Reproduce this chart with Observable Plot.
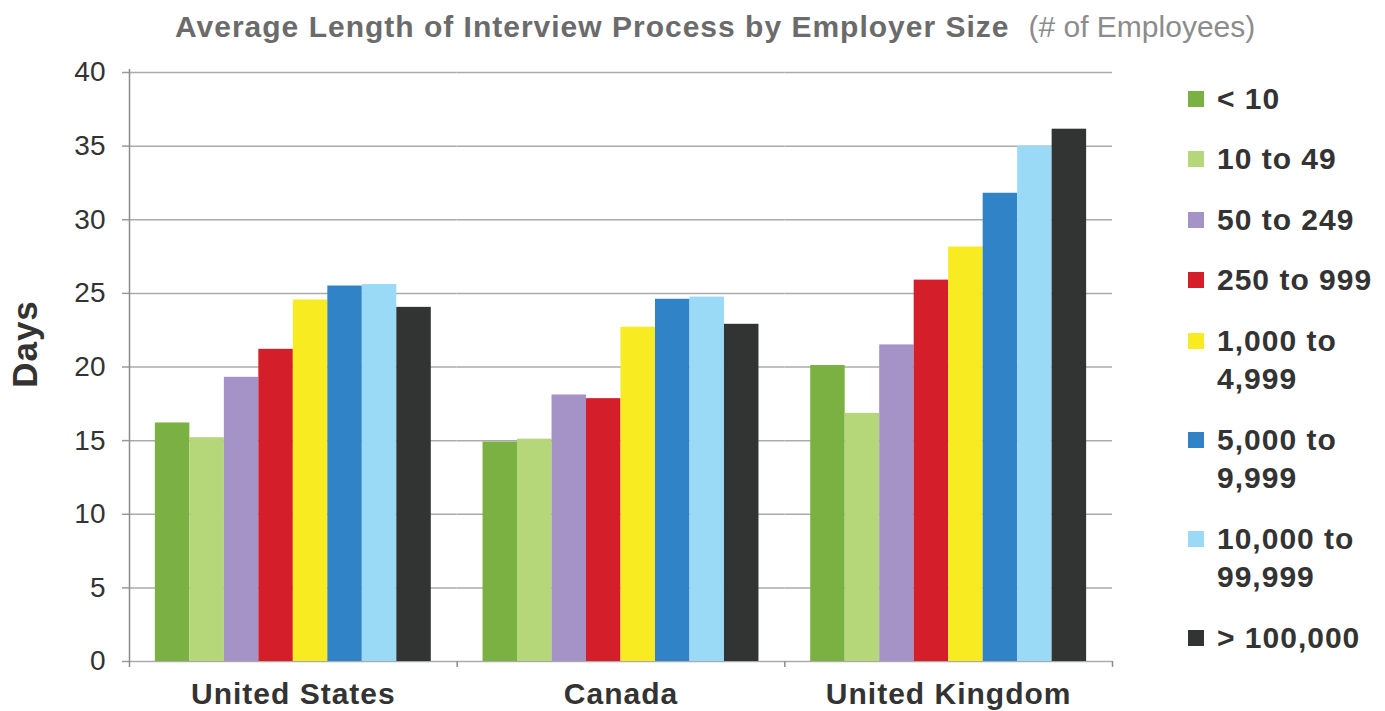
<!DOCTYPE html>
<html>
<head>
<meta charset="utf-8">
<script src="https://cdn.jsdelivr.net/npm/d3@7"></script>
<script src="https://cdn.jsdelivr.net/npm/@observablehq/plot@0.6"></script>
<style>
  body { margin: 0; background: #fff; font-family: "Liberation Sans", Arial, Helvetica, sans-serif; }
  #wrap { position: relative; width: 1385px; height: 711px; overflow: hidden; }
  #chart { position: absolute; left: 0; top: 0; }
  #title { position: absolute; left: 175px; top: 12px; white-space: nowrap; font-size: 30px; line-height: 30px; color: #6b6b6b; }
  #title b { letter-spacing: 1.0px; }
  #title span { color: #8c8c8c; font-weight: normal; margin-left: 19px; }
  #ylab { position: absolute; left: 24px; top: 344px; transform: translate(-50%, -50%) rotate(-90deg);
          font-size: 35px; line-height: 35px; font-weight: bold; letter-spacing: 1px; color: #333; white-space: nowrap; }
  #legend { position: absolute; left: 1188px; top: 79.5px; }
  .item { display: flex; align-items: flex-start; margin-bottom: 22px; }
  .sw { width: 16px; height: 16px; margin-top: 11.25px; margin-right: 13px; flex: none; }
  .lab { font-size: 30px; font-weight: bold; letter-spacing: 1px; line-height: 38.5px; color: #333; white-space: pre; }
  #chart [aria-label="fx-axis tick label"] text { font-weight: bold; letter-spacing: 1px; }
</style>
</head>
<body>
<div id="wrap">
  <div id="chart"></div>
  <div id="title"></div>
  <div id="ylab"></div>
  <div id="legend"></div>
</div>
<script>
const titleMain = "Average Length of Interview Process by Employer Size";
const titleSub = "(# of Employees)";
const yLabel = "Days";
const countries = ["United States", "Canada", "United Kingdom"];
const sizes = ["< 10", "10 to 49", "50 to 249", "250 to 999", "1,000 to 4,999", "5,000 to 9,999", "10,000 to 99,999", "> 100,000"];
const colors = ["#7bb142", "#b5d77a", "#a592c6", "#d41f2a", "#f8eb22", "#3083c6", "#9bdaf7", "#323433"];
const unitedStates = [16.2, 15.2, 19.3, 21.2, 24.55, 25.5, 25.6, 24.05];
const canada = [14.9, 15.1, 18.1, 17.85, 22.7, 24.6, 24.75, 22.9];
const unitedKingdom = [20.1, 16.85, 21.5, 25.9, 28.15, 31.8, 35.0, 36.15];
const yTicks = [0, 5, 10, 15, 20, 25, 30, 35, 40];

const values = [unitedStates, canada, unitedKingdom];
const data = countries.flatMap((c, i) => sizes.map((s, j) => ({country: c, size: s, days: values[i][j]})));

document.getElementById("title").innerHTML = `<b>${titleMain}</b><span>${titleSub}</span>`;
document.getElementById("ylab").textContent = yLabel;

const width = 1385, height = 711;
const marginLeft = 129, marginRight = 273, marginTop = 72, marginBottom = 50;
const outerPad = 0.75;
const facetW = (width - marginLeft - marginRight) / countries.length;
const step = facetW / (sizes.length + 2 * outerPad);
const edge = step * (0.5 + outerPad);

const chart = Plot.plot({
  width, height, marginLeft, marginRight, marginTop, marginBottom,
  style: {fontFamily: '"Liberation Sans", Arial, Helvetica, sans-serif', color: "#333", background: "transparent", overflow: "visible"},
  fx: {domain: countries, padding: 0, round: false, label: null},
  x: {domain: sizes, paddingInner: 0, paddingOuter: outerPad, round: false, axis: null, label: null},
  y: {domain: [0, 40], label: null},
  color: {domain: sizes, range: colors},
  marks: [
    Plot.gridY(yTicks, {stroke: "#ababab", strokeOpacity: 1, strokeWidth: 1.5}),
    Plot.axisY(yTicks, {tickSize: 7, tickFormat: () => "", stroke: "#9a9a9a", strokeWidth: 1.5, label: null}),
    Plot.axisY(yTicks, {tickSize: 0, tickPadding: 24, fontSize: 28, color: "#333", label: null}),
    Plot.barY(data, {fx: "country", x: "size", y: "days", fill: "size"}),
    Plot.ruleX(["United States"], {fx: d => d, x: () => sizes[0], y1: -0.4, y2: 40.2, dx: -edge, stroke: "#8c8c8c", strokeWidth: 1.5}),
    Plot.ruleX(countries, {fx: d => d, x: () => sizes[sizes.length - 1], y1: 0, y2: -0.4, dx: edge, stroke: "#8c8c8c", strokeWidth: 1.5}),
    Plot.axisFx({anchor: "bottom", tickSize: 0, tickPadding: 21, fontSize: 30, fontWeight: "bold", color: "#333", label: null})
  ]
});
document.getElementById("chart").appendChild(chart);

const legend = document.getElementById("legend");
sizes.forEach((s, i) => {
  const item = document.createElement("div");
  item.className = "item";
  const sw = document.createElement("div");
  sw.className = "sw";
  sw.style.background = colors[i];
  const lab = document.createElement("div");
  lab.className = "lab";
  lab.textContent = (s.includes(",") && s.includes(" to ")) ? s.replace(" to ", " to\n") : s;
  item.appendChild(sw);
  item.appendChild(lab);
  legend.appendChild(item);
});
</script>
</body>
</html>
